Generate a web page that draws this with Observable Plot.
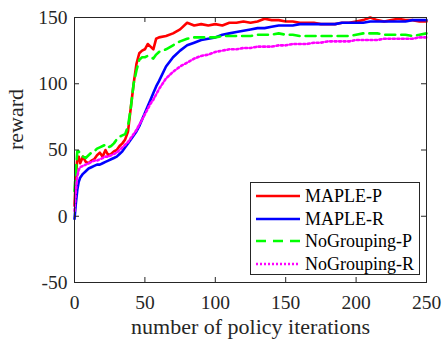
<!DOCTYPE html>
<html><head><meta charset="utf-8">
<script src="https://cdn.jsdelivr.net/npm/d3@7"></script>
<script src="https://cdn.jsdelivr.net/npm/@observablehq/plot@0.6"></script>
<style>
body{margin:0;background:#fff;}
#wrap{position:relative;width:444px;height:341px;font-family:"Liberation Serif","Times New Roman",serif;}
#legend{position:absolute;left:250px;top:182px;width:170px;height:93px;border:1px solid #262626;background:#fff;box-sizing:border-box;}
.row{position:absolute;left:0;height:22px;display:flex;align-items:center;}
.row svg{margin-left:4px;margin-right:4px;}
.row span{font-size:18px;color:#000;line-height:22px;}
</style></head>
<body><div id="wrap"></div>
<script>
const iters = [0,1,2,3,4,6,8,10,12,14,16,18,20,22,24,26,28,30,32,34,36,38,40,42,44,46,48,50,52,54,56,58,60,
  65,70,75,80,85,90,95,100,105,110,115,120,125,130,135,140,145,150,155,160,165,170,175,180,185,190,195,200,205,210,215,220,225,230,235,240,245,250];
const mapleP = [8,30,44,45,40,45,41,40,42,43,46,48,45,50,46,47,49,50,53,55,58,64,82,100,115,123,125,126,130,128,126,134,135,
  136,138,141,146,144,145,144,145,144,146,146,147,146,147,149,148,148,147,147,146,146,146,145,145,145,146,146,147,148,150,148,147,148,149,148,148,147,147];
const mapleR = [-2,10,20,26,29,32,34,36,37,38,39,39,40,41,42,43,44,45,47,49,52,55,58,61,64,68,73,78,83,88,93,98,102,
  113,120,125,129,131,133,134,135,137,138,139,140,141,142,142,143,144,144,144,145,145,145,145,145,145,146,146,146,146,147,147,147,147,147,147,148,148,148];
const noGroupP = [19,35,49,49,47,45,44,46,48,49,51,52,53,54,52,53,55,58,60,61,62,68,82,100,110,118,120,120,121,120,119,122,124,
  126,129,132,134,135,135,135,135,136,136,136,136,136,137,137,137,138,137,137,136,136,136,136,136,136,136,136,137,138,138,138,137,137,137,137,136,137,138];
const noGroupR = [4,20,30,35,37,38,39,40,41,42,42,43,44,45,45,46,47,48,50,52,54,56,59,62,65,69,73,77,81,85,88,92,96,
  104,109,113,116,119,121,122,124,125,126,126,127,127,128,128,128,129,129,130,130,130,131,131,132,132,132,132,133,133,133,133,134,134,134,134,134,135,135];
const seriesNames = ["MAPLE-P","MAPLE-R","NoGrouping-P","NoGrouping-R"];
const seriesValues = [mapleP, mapleR, noGroupP, noGroupR];
const seriesColors = ["#ff0000","#0000ff","#00ff00","#ff00ff"];
const seriesDash = [null, null, "10,6", "2,2.5"];
const xTicks = [0,50,100,150,200,250];
const yTicks = [-50,0,50,100,150];
const xLabel = "number of policy iterations";
const yLabel = "reward";

const W = 444, H = 341, mt = 17, mb = 59, ml = 74, mr = 18;
const fh = H - mt - mb, fw = W - ml - mr, tk = 5;
const ink = "#262626";

const lineMarks = seriesNames.map((name, s) => {
  const data = iters.map((it, i) => ({x: it, y: seriesValues[s][i]}));
  return Plot.line(data, {x: "x", y: "y", stroke: seriesColors[s], strokeWidth: 2.6,
    strokeDasharray: seriesDash[s] || undefined, strokeLinejoin: "round"});
});

const chart = Plot.plot({
  width: W, height: H, marginTop: mt, marginBottom: mb, marginLeft: ml, marginRight: mr,
  style: {fontFamily: '"Liberation Serif","Times New Roman",serif', fontSize: "19.5px", color: ink, background: "#fff", overflow: "visible"},
  x: {domain: [0, 250]},
  y: {domain: [-50, 150]},
  marks: [
    ...lineMarks,
    Plot.frame({stroke: ink, strokeWidth: 1}),
    Plot.tickX(xTicks, {x: d => d, insetTop: fh - tk, stroke: ink}),
    Plot.tickX(xTicks, {x: d => d, insetBottom: fh - tk, stroke: ink}),
    Plot.tickY(yTicks, {y: d => d, insetRight: fw - tk, stroke: ink}),
    Plot.tickY(yTicks, {y: d => d, insetLeft: fw - tk, stroke: ink}),
    Plot.axisX({ticks: xTicks, tickSize: 0, tickPadding: 13, label: null, fill: ink, tickFormat: d => String(d)}),
    Plot.axisY({ticks: yTicks, tickSize: 0, tickPadding: 7, label: null, fill: ink, tickFormat: d => String(d)}),
    Plot.text([xLabel], {frameAnchor: "bottom", lineAnchor: "bottom", dy: 51, fontSize: 22, fill: ink, text: d => d}),
    Plot.text([yLabel], {frameAnchor: "left", dx: -59, rotate: -90, fontSize: 22, fill: ink, text: d => d})
  ]
});
const wrap = document.getElementById("wrap");
wrap.appendChild(chart);

const legend = document.createElement("div");
legend.id = "legend";
seriesNames.forEach((name, s) => {
  const row = document.createElement("div");
  row.className = "row";
  row.style.top = (2 + s * 22.7) + "px";
  const dash = seriesDash[s] ? (s === 2 ? "10,7" : "2,2") : "none";
  row.innerHTML = `<svg width="46" height="22"><line x1="1" x2="45" y1="11" y2="11" stroke="${seriesColors[s]}" stroke-width="2.6" stroke-dasharray="${dash}"/></svg><span>${name}</span>`;
  legend.appendChild(row);
});
wrap.appendChild(legend);
</script>
</body></html>
